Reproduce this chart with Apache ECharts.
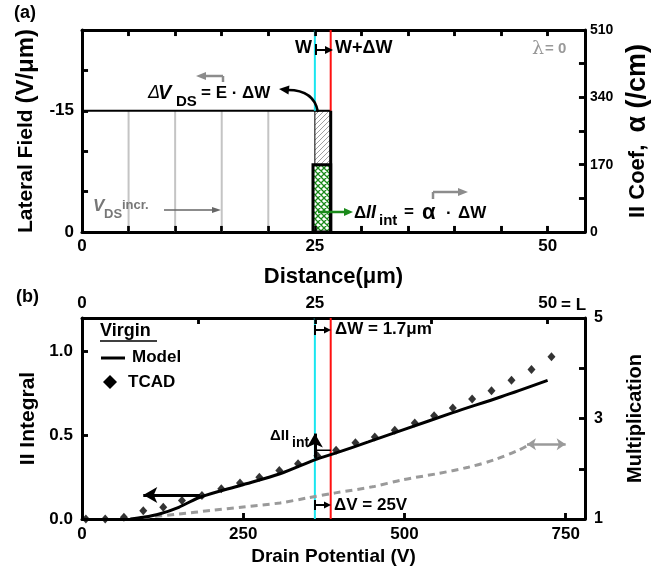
<!DOCTYPE html>
<html><head><meta charset="utf-8">
<script src="https://cdn.jsdelivr.net/npm/echarts@6/dist/echarts.min.js"></script>
<style>html,body{margin:0;padding:0;background:#fff}#c{width:670px;height:572px}</style>
</head><body><div id="c"></div>
<script>
// ---------- Panel (a) data ----------
const distLabelsA = [0, 25, 50];
const distTicksA = [5, 10, 15, 20, 25, 30, 35, 40, 45, 50];
const fieldLabels = [0, -15];
const fieldTicks = [-25, -20, -15, -10, -5];
const alphaLabels = [0, 170, 340, 510];
const alphaTicks = [85, 170, 255, 340, 425, 510];
const fieldLevel = -15;          // V/um
const W = 25;                    // um
const dW = 1.7;                  // um
const gridLinesX = [5, 10, 15, 20];
const alphaBox = 170;            // /cm
// ---------- Panel (b) data ----------
const modelV  = [75, 95, 120, 150, 183, 245, 307, 362, 393, 444, 500, 575, 650, 722];
const modelII = [0, 0.01, 0.03, 0.07, 0.13, 0.2, 0.27, 0.355, 0.393, 0.46, 0.535, 0.635, 0.73, 0.828];
const tcadV  = [6, 36, 65, 95, 126, 155, 186, 216, 245, 275, 306, 335, 365, 394, 424, 454, 485, 516, 546, 575, 605, 635, 666, 697, 728];
const tcadII = [0, 0, 0.01, 0.05, 0.07, 0.11, 0.14, 0.18, 0.215, 0.25, 0.29, 0.33, 0.377, 0.41, 0.455, 0.49, 0.53, 0.573, 0.617, 0.663, 0.717, 0.766, 0.828, 0.892, 0.968];
const multV = [95, 150, 200, 250, 307, 350, 393, 450, 497, 550, 599, 640, 677, 696];
const multM = [1.03, 1.1, 1.17, 1.24, 1.32, 1.42, 1.52, 1.64, 1.78, 1.9, 2.03, 2.18, 2.37, 2.5];
const potLabels = [0, 250, 500, 750];
const potTicks = [250, 500, 750];
const iiLabels = [0, 0.5, 1.0];
const iiTicks = [0.5, 1.0];
const multLabels = [1, 3, 5];
const multTicks = [2, 3, 4, 5];
const distLabelsB = [0, 25, 50];
const distTicksB = [12.5, 25, 37.5, 50];
const dII_at = 0.41, dII_top = 0.51;
const leftArrowII = 0.144, leftArrowFrom = 183, leftArrowTo = 95;

const F = "'Liberation Sans', Arial, sans-serif";
const CYAN = '#19e6f0', RED = '#ff1010', GREEN = '#1a8a1a', GRAY = '#8c8c8c';
const TICK = {color: '#000', width: 2.5, type: 'solid'};

function pick(list, dec) {
  return v => list.some(x => Math.abs(x - v) < 1e-6) ? (dec ? v.toFixed(dec) : String(v)) : '';
}
function axis(o) {
  return Object.assign({
    type: 'value',
    axisLine: {show: true, onZero: false, lineStyle: {color: '#000', width: 3}},
    axisTick: {show: true, inside: true, length: 6, lineStyle: {color: '#000', width: 2.5}},
    splitLine: {show: false},
  }, o);
}
function lbl(size, fmt, margin) {
  return {color: '#000', fontFamily: F, fontWeight: 'bold', fontSize: size, formatter: fmt, margin: margin == null ? 7 : margin, showMinLabel: true, showMaxLabel: true, hideOverlap: false};
}
// tick mark segments in data units (inside the frame)
function tickSeg(a, b) {
  return [{coord: a, symbol: 'none', lineStyle: TICK}, {coord: b, symbol: 'none'}];
}
const xTickSegs = (vals, y0, dy) => vals.map(v => tickSeg([v, y0], [v, y0 + dy]));
const yTickSegs = (vals, x0, dx) => vals.map(v => tickSeg([x0, v], [x0 + dx, v]));

function patHatch() {
  const c = document.createElement('canvas'); c.width = 5; c.height = 5;
  const g = c.getContext('2d'); g.fillStyle = '#fff'; g.fillRect(0, 0, 5, 5);
  g.strokeStyle = '#a0a0a0'; g.lineWidth = 1;
  g.beginPath(); g.moveTo(0, 5); g.lineTo(5, 0); g.moveTo(-1, 1); g.lineTo(1, -1); g.moveTo(4, 6); g.lineTo(6, 4); g.stroke();
  return c;
}
function patCross() {
  const c = document.createElement('canvas'); c.width = 6; c.height = 6;
  const g = c.getContext('2d'); g.fillStyle = '#fff'; g.fillRect(0, 0, 6, 6);
  g.strokeStyle = GREEN; g.lineWidth = 1.3;
  g.beginPath();
  g.moveTo(0, 6); g.lineTo(6, 0); g.moveTo(-1, 1); g.lineTo(1, -1); g.moveTo(5, 7); g.lineTo(7, 5);
  g.moveTo(0, 0); g.lineTo(6, 6); g.moveTo(-1, 5); g.lineTo(1, 7); g.moveTo(5, -1); g.lineTo(7, 1);
  g.stroke();
  return c;
}
const hatch = patHatch(), cross = patCross();

function T(text, x, y, size, o = {}) {
  return {type: 'text', x, y, z: 100, style: {text, font: `${o.italic ? 'italic ' : ''}${o.normal ? '' : 'bold '}${size}px ${o.font || F}`, fill: o.color || '#000', textAlign: o.align || 'left', textVerticalAlign: 'middle'}};
}
function L(x1, y1, x2, y2, color, w) {
  return {type: 'line', z: 100, shape: {x1, y1, x2, y2}, style: {stroke: color, lineWidth: w}};
}
function head(x, y, dir, color, len, wid) {
  const a = Math.atan2(dir[1], dir[0]);
  const bx = x - len * Math.cos(a), by = y - len * Math.sin(a);
  const px = -Math.sin(a) * wid / 2, py = Math.cos(a) * wid / 2;
  return {type: 'polygon', z: 100, shape: {points: [[x, y], [bx + px, by + py], [bx - px, by - py]]}, style: {fill: color}};
}

const chart = echarts.init(document.getElementById('c'), null, {renderer: 'canvas'});

const rectItem = (x0, y0, x1, y1, fill, lw) => (params, api) => {
  const a = api.coord([x0, y0]), b = api.coord([x1, y1]);
  return {type: 'rect', shape: {x: Math.min(a[0], b[0]), y: Math.min(a[1], b[1]), width: Math.abs(b[0] - a[0]), height: Math.abs(b[1] - a[1])},
    style: {fill: {image: fill, repeat: 'repeat'}, stroke: '#000', lineWidth: lw}};
};

const graphics = [
  T('(a)', 14, 13, 18),
  T('(b)', 16, 297, 18),
  T('W', 312, 48, 18, {align: 'right'}),
  L(316, 44, 316, 55, '#000', 2), L(316, 50, 326, 50, '#000', 2), head(333, 50, [1, 0], '#000', 8, 8),
  T('W+ΔW', 335, 48, 18),
  T('λ', 532, 49, 19, {color: '#999', normal: true, font: "'DejaVu Serif', serif"}),
  T('= 0', 545, 49, 15, {color: '#999'}),
  T('Δ', 148, 93, 18, {italic: true, normal: true}),
  T('V', 158, 93, 20, {italic: true}),
  T('DS', 176, 102, 15),
  T('= E · ΔW', 201, 93, 17),
  {type: 'bezierCurve', z: 100, shape: {x1: 318, y1: 112, cpx1: 314, cpy1: 90, x2: 288, y2: 90}, style: {stroke: '#000', lineWidth: 2.5, fill: null}},
  head(279, 89, [-1, -0.1], '#000', 10, 9),
  L(223, 82, 223, 76, GRAY, 2.5), L(223, 76, 205, 76, GRAY, 2.5), head(196, 76, [-1, 0], GRAY, 10, 8),
  T('V', 93, 206, 17, {italic: true, color: '#777'}),
  T('DS', 104, 214, 13, {color: '#777'}),
  T('incr.', 122, 205, 13, {color: '#777'}),
  L(164, 210, 212, 210, '#666', 1.5), head(221, 210, [1, 0], '#666', 9, 6),
  L(318, 212, 344, 212, GREEN, 2.5), head(353, 212, [1, 0], GREEN, 9, 8),
  T('Δ', 354, 213, 17),
  T('II', 366, 213, 18, {italic: true}),
  T('int', 379, 221, 15),
  T('=', 404, 212, 17),
  T('α', 422, 213, 22),
  T('·', 446, 213, 17),
  T('ΔW', 458, 213, 17),
  L(433, 199, 433, 192, GRAY, 2.5), L(433, 192, 458, 192, GRAY, 2.5), head(468, 192, [1, 0], GRAY, 10, 8),
  T('Virgin', 100, 331, 18),
  L(100, 341, 157, 341, '#000', 1.5),
  L(101, 358, 125, 358, '#000', 3),
  T('Model', 132, 357, 17),
  {type: 'polygon', z: 100, shape: {points: [[110, 375], [117, 382], [110, 389], [103, 382]]}, style: {fill: '#000'}},
  T('TCAD', 128, 382, 17),
  L(315, 325, 315, 335, '#000', 2), L(315, 330, 324, 330, '#000', 2), head(331, 330, [1, 0], '#000', 7, 7),
  T('ΔW = 1.7μm', 335, 329, 17),
  L(315, 500, 315, 510, '#000', 2), L(315, 505, 324, 505, '#000', 2), head(331, 505, [1, 0], '#000', 7, 7),
  T('ΔV = 25V', 334, 505, 17),
  T('ΔII', 270, 436, 15),
  T('int', 292, 443, 14),
  T('= L', 561, 305, 17)
];

const option = {
  animation: false,
  backgroundColor: '#fff',
  grid: [
    {left: 82, right: 85, top: 30, height: 202},
    {left: 82, right: 85, top: 318, height: 201}
  ],
  xAxis: [
    axis({gridIndex: 0, position: 'bottom', min: 0, max: 54, interval: 5,
      axisLabel: lbl(17, pick(distLabelsA), 6),
      name: 'Distance(μm)', nameLocation: 'middle', nameGap: 34,
      nameTextStyle: {fontFamily: F, fontWeight: 'bold', fontSize: 22, color: '#000'}}),
    axis({gridIndex: 0, position: 'top', min: 0, max: 54, interval: 5, axisLabel: {show: false}}),
    axis({gridIndex: 1, position: 'bottom', min: 0, max: 780, interval: 250,
      axisLabel: lbl(17, pick(potLabels), 7),
      name: 'Drain Potential (V)', nameLocation: 'middle', nameGap: 28,
      nameTextStyle: {fontFamily: F, fontWeight: 'bold', fontSize: 19, color: '#000'}}),
    axis({gridIndex: 1, position: 'top', min: 0, max: 54, interval: 12.5,
      axisLabel: lbl(17, pick(distLabelsB), 6)})
  ],
  yAxis: [
    axis({gridIndex: 0, position: 'left', min: -25, max: 0, interval: 5, inverse: true,
      axisLabel: lbl(17, pick(fieldLabels), 8),
      name: '{a|Lateral Field }{b|(V/μm)}', nameLocation: 'middle', nameGap: 40,
      nameTextStyle: {color: '#000', rich: {a: {fontFamily: F, fontWeight: 'bold', fontSize: 21}, b: {fontFamily: F, fontWeight: 'bold', fontSize: 24}}}}),
    axis({gridIndex: 0, position: 'right', min: 0, max: 510, interval: 85,
      axisLabel: lbl(14, pick(alphaLabels), 5),
      name: '{a|II Coef,  }{b|α (/cm)}', nameLocation: 'middle', nameGap: 39, nameRotate: 90,
      nameTextStyle: {color: '#000', rich: {a: {fontFamily: F, fontWeight: 'bold', fontSize: 22}, b: {fontFamily: F, fontWeight: 'bold', fontSize: 27}}}}),
    axis({gridIndex: 1, position: 'left', min: 0, max: 1.2, interval: 0.5,
      axisLabel: lbl(17, pick(iiLabels, 1), 9),
      name: 'II Integral', nameLocation: 'middle', nameGap: 41,
      nameTextStyle: {fontFamily: F, fontWeight: 'bold', fontSize: 21, color: '#000'}}),
    axis({gridIndex: 1, position: 'right', min: 1, max: 5, interval: 1,
      axisLabel: lbl(16, pick(multLabels), 9),
      name: 'Multiplication', nameLocation: 'middle', nameGap: 40, nameRotate: 90,
      nameTextStyle: {fontFamily: F, fontWeight: 'bold', fontSize: 20, color: '#000'}})
  ],
  series: [
    {type: 'custom', xAxisIndex: 0, yAxisIndex: 0, z: 2, silent: true,
      data: gridLinesX.map(x => [x, fieldLevel]),
      renderItem: (p, api) => {
        const a = api.coord([api.value(0), 0]), b = api.coord([api.value(0), api.value(1)]);
        return {type: 'line', shape: {x1: a[0], y1: a[1], x2: b[0], y2: b[1]}, style: {stroke: '#c4c4c4', lineWidth: 2}};
      }},
    // field level line, carrying panel (a) left/top/bottom tick marks
    {type: 'line', xAxisIndex: 0, yAxisIndex: 0, z: 3, symbol: 'none', silent: true,
      data: [[0, fieldLevel], [W + dW, fieldLevel]], lineStyle: {color: '#000', width: 2},
      markLine: {silent: true, symbol: 'none', label: {show: false}, animation: false,
        data: [].concat(xTickSegs(distTicksA, 0, -0.75), xTickSegs(distTicksA, -25, 0.75), yTickSegs(fieldTicks, 0, 0.65))}},
    {type: 'custom', xAxisIndex: 0, yAxisIndex: 0, z: 3, silent: true, data: [[W, fieldLevel]],
      renderItem: rectItem(W, fieldLevel, W + dW, -alphaBox * 25 / 510, hatch, 1)},
    {type: 'custom', xAxisIndex: 0, yAxisIndex: 1, z: 4, silent: true, data: [[W, alphaBox]],
      renderItem: rectItem(W - 0.2, 0, W + dW, alphaBox, cross, 3)},
    // right edge of the box, carrying alpha-axis tick marks
    {type: 'line', xAxisIndex: 0, yAxisIndex: 1, z: 5, symbol: 'none', silent: true,
      data: [[W + dW, 0], [W + dW, alphaBox * 1.8]], lineStyle: {color: '#000', width: 3},
      markLine: {silent: true, symbol: 'none', label: {show: false}, animation: false,
        data: yTickSegs(alphaTicks, 54, -0.65)}},
    {type: 'line', xAxisIndex: 0, yAxisIndex: 0, z: 3, symbol: 'none', silent: true,
      data: [[W, -25], [W, fieldLevel]], lineStyle: {color: CYAN, width: 2}},
    {type: 'line', xAxisIndex: 0, yAxisIndex: 0, z: 3, symbol: 'none', silent: true,
      data: [[W + dW, -25], [W + dW, fieldLevel]], lineStyle: {color: RED, width: 2}},
    {type: 'line', xAxisIndex: 3, yAxisIndex: 2, z: 2, symbol: 'none', silent: true,
      data: [[W, 0], [W, 1.2]], lineStyle: {color: CYAN, width: 2},
      markLine: {silent: true, symbol: 'none', label: {show: false}, animation: false,
        data: xTickSegs(distTicksB, 1.2, -0.036)}},
    {type: 'line', xAxisIndex: 3, yAxisIndex: 2, z: 2, symbol: 'none', silent: true,
      data: [[W + dW, 0], [W + dW, 1.2]], lineStyle: {color: RED, width: 2}},
    {type: 'line', xAxisIndex: 2, yAxisIndex: 3, z: 3, symbol: 'none', smooth: 0.3, silent: true,
      data: multV.map((v, i) => [v, multM[i]]), lineStyle: {color: '#9a9a9a', width: 3, type: [7, 5]},
      markLine: {silent: true, symbol: ['arrow', 'arrow'], symbolSize: [9, 9], label: {show: false}, animation: false,
        lineStyle: {color: '#9a9a9a', width: 2.5, type: 'solid'},
        data: [[{coord: [690, 2.49]}, {coord: [750, 2.49]}]].concat(yTickSegs(multTicks, 780, -9.3))}},
    {type: 'line', xAxisIndex: 2, yAxisIndex: 2, z: 4, symbol: 'none', smooth: 0.3, silent: true,
      data: modelV.map((v, i) => [v, modelII[i]]), lineStyle: {color: '#000', width: 3},
      markLine: {silent: true, symbol: ['none', 'arrow'], symbolSize: [12, 14], label: {show: false}, animation: false,
        lineStyle: {color: '#000', width: 3, type: 'solid'},
        data: [
          [{coord: [leftArrowFrom, leftArrowII]}, {coord: [leftArrowTo, leftArrowII]}],
          [{coord: [W / 54 * 780, 0.365]}, {coord: [W / 54 * 780, dII_top]}]
        ].concat(xTickSegs(potTicks, 0, 0.036), yTickSegs(iiTicks, 0, 9.3))}},
    {type: 'line', xAxisIndex: 2, yAxisIndex: 2, z: 4, symbol: 'none', silent: true,
      data: [[W / 54 * 780, dII_at], [(W + dW) / 54 * 780, dII_at]], lineStyle: {color: '#000', width: 1.5}},
    {type: 'scatter', xAxisIndex: 2, yAxisIndex: 2, z: 5, symbol: 'diamond', symbolSize: [8, 9], silent: true,
      data: tcadV.map((v, i) => [v, tcadII[i]]), itemStyle: {color: '#000'}}
  ],
  graphic: graphics
};
chart.setOption(option);
</script></body></html>
